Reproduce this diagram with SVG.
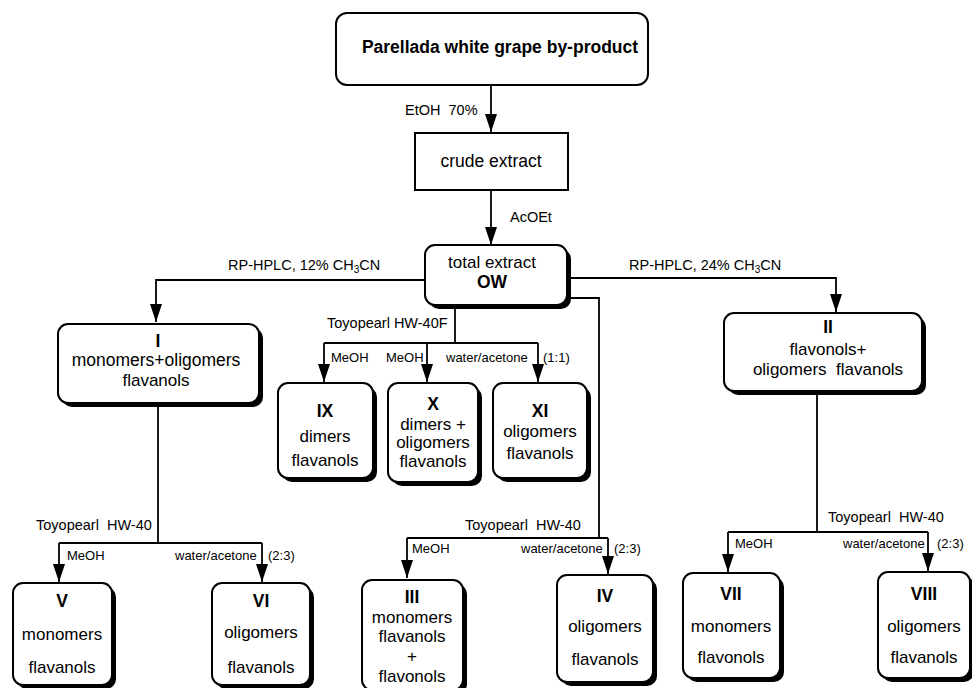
<svg xmlns="http://www.w3.org/2000/svg" width="972" height="688" viewBox="0 0 972 688">
<defs>
<style>
text{font-family:"Liberation Sans",Arial,Helvetica,sans-serif;fill:#000;white-space:pre}
.n{font-size:17px;text-anchor:middle}
.b{font-size:17.5px;font-weight:bold;text-anchor:middle}
.l{font-size:14.5px}
.s{font-size:13px}
.box{fill:#fff;stroke:#000;stroke-width:2}
.sh{fill:#000}
.ln{fill:none;stroke:#000;stroke-width:1.8}
.ar{fill:none;stroke:#000;stroke-width:1.8;marker-end:url(#ah)}
</style>
<marker id="ah" viewBox="0 0 18 12" refX="18" refY="6" markerWidth="18" markerHeight="12" markerUnits="userSpaceOnUse" orient="auto">
<path d="M0,0 L18,6 L0,12 z" fill="#000"/>
</marker>
</defs>
<rect width="972" height="688" fill="#fff"/>

<g id="connectors">
<line class="ar" x1="491" y1="85" x2="491" y2="132"/>
<line class="ar" x1="491" y1="190" x2="491" y2="245"/>
<polyline class="ar" points="425,280 156,280 156,322"/>
<polyline class="ar" points="571,278 836,278 836,312"/>
<polyline class="ln" points="571,298 599,298 599,538"/>
<line class="ln" x1="455" y1="309" x2="455" y2="343"/>
<line class="ln" x1="324" y1="343" x2="538" y2="343"/>
<line class="ar" x1="324" y1="343" x2="324" y2="382"/>
<line class="ar" x1="427" y1="343" x2="427" y2="382"/>
<line class="ar" x1="538" y1="343" x2="538" y2="382"/>
<line class="ln" x1="158" y1="407" x2="158" y2="543"/>
<line class="ln" x1="59" y1="543" x2="262" y2="543"/>
<line class="ar" x1="59" y1="543" x2="59" y2="582"/>
<line class="ar" x1="262" y1="543" x2="262" y2="582"/>
<line class="ln" x1="407" y1="538" x2="608" y2="538"/>
<line class="ar" x1="407" y1="538" x2="407" y2="578"/>
<line class="ar" x1="608" y1="538" x2="608" y2="574"/>
<line class="ln" x1="817" y1="395" x2="817" y2="532"/>
<line class="ln" x1="728" y1="532" x2="928" y2="532"/>
<line class="ar" x1="728" y1="532" x2="728" y2="572"/>
<line class="ar" x1="928" y1="532" x2="928" y2="571"/>

<text class="l" x="405" y="115" xml:space="preserve">EtOH  70%</text>
<text class="l" x="510" y="222">AcOEt</text>
<text class="l" x="228" y="270">RP-HPLC, 12% CH<tspan font-size="10" dy="3">3</tspan><tspan dy="-3">CN</tspan></text>
<text class="l" x="629" y="270">RP-HPLC, 24% CH<tspan font-size="10" dy="3">3</tspan><tspan dy="-3">CN</tspan></text>
<text class="l" x="327" y="328">Toyopearl HW-40F</text>
<text class="s" x="331" y="362">MeOH</text>
<text class="s" x="386" y="362">MeOH</text>
<text class="s" x="446" y="362">water/acetone</text>
<text class="s" x="543" y="362">(1:1)</text>
<text class="l" x="36" y="530" xml:space="preserve">Toyopearl  HW-40</text>
<text class="s" x="67" y="560">MeOH</text>
<text class="s" x="175" y="560">water/acetone</text>
<text class="s" x="268" y="560">(2:3)</text>
<text class="l" x="465" y="530" xml:space="preserve">Toyopearl  HW-40</text>
<text class="s" x="412" y="553">MeOH</text>
<text class="s" x="521" y="553">water/acetone</text>
<text class="s" x="614" y="553">(2:3)</text>
<text class="l" x="828" y="522" xml:space="preserve">Toyopearl  HW-40</text>
<text class="s" x="735" y="548">MeOH</text>
<text class="s" x="843" y="548">water/acetone</text>
<text class="s" x="937" y="548">(2:3)</text>
</g>

<g id="node-source">
<rect class="box" x="336" y="13" width="312" height="72" rx="11"/>
<text class="b" x="500" y="53">Parellada white grape by-product</text>
</g>

<g id="node-crude">
<rect class="box" x="415" y="133" width="153" height="57"/>
<text class="n" x="491" y="167" style="font-size:17.5px">crude extract</text>
</g>

<g id="node-OW">
<rect class="sh" x="429" y="249" width="142" height="60" rx="10"/>
<rect class="box" x="425" y="245" width="142" height="60" rx="10"/>
<text class="n" x="492" y="268">total extract</text>
<text class="b" x="492" y="288">OW</text>
</g>

<g id="node-I">
<rect class="sh" x="62" y="328" width="201" height="79" rx="10"/>
<rect class="box" x="58" y="324" width="201" height="79" rx="10"/>
<text class="b" x="158" y="347">I</text>
<text class="n" x="156" y="366" style="font-size:17.5px">monomers+oligomers</text>
<text class="n" x="156" y="386">flavanols</text>
</g>

<g id="node-II">
<rect class="sh" x="728" y="317" width="198" height="78" rx="10"/>
<rect class="box" x="724" y="313" width="198" height="78" rx="10"/>
<text class="b" x="828" y="333">II</text>
<text class="n" x="828" y="355">flavonols+</text>
<text class="n" x="828" y="375" xml:space="preserve">oligomers  flavanols</text>
</g>

<g id="node-IX">
<rect class="sh" x="282" y="387" width="95" height="95" rx="10"/>
<rect class="box" x="278" y="383" width="95" height="95" rx="10"/>
<text class="b" x="325" y="417">IX</text>
<text class="n" x="325" y="442">dimers</text>
<text class="n" x="325" y="466">flavanols</text>
</g>

<g id="node-X">
<rect class="sh" x="392" y="387" width="90" height="99" rx="10"/>
<rect class="box" x="388" y="383" width="90" height="99" rx="10"/>
<text class="b" x="433" y="410">X</text>
<text class="n" x="433" y="430">dimers +</text>
<text class="n" x="433" y="448">oligomers</text>
<text class="n" x="433" y="467">flavanols</text>
</g>

<g id="node-XI">
<rect class="sh" x="497" y="387" width="94" height="95" rx="10"/>
<rect class="box" x="493" y="383" width="94" height="95" rx="10"/>
<text class="b" x="540" y="417">XI</text>
<text class="n" x="540" y="437">oligomers</text>
<text class="n" x="540" y="459">flavanols</text>
</g>

<g id="node-V">
<rect class="sh" x="17" y="587" width="99" height="102" rx="10"/>
<rect class="box" x="13" y="583" width="99" height="102" rx="10"/>
<text class="b" x="62" y="607">V</text>
<text class="n" x="62" y="640">monomers</text>
<text class="n" x="62" y="673">flavanols</text>
</g>

<g id="node-VI">
<rect class="sh" x="216" y="587" width="98" height="102" rx="10"/>
<rect class="box" x="212" y="583" width="98" height="102" rx="10"/>
<text class="b" x="261" y="607">VI</text>
<text class="n" x="261" y="638">oligomers</text>
<text class="n" x="261" y="673">flavanols</text>
</g>

<g id="node-III">
<rect class="sh" x="366" y="584" width="101" height="110" rx="10"/>
<rect class="box" x="362" y="580" width="101" height="110" rx="10"/>
<text class="b" x="412" y="603">III</text>
<text class="n" x="412" y="623">monomers</text>
<text class="n" x="412" y="642">flavanols</text>
<text class="n" x="412" y="662">+</text>
<text class="n" x="412" y="682">flavonols</text>
</g>

<g id="node-IV">
<rect class="sh" x="561" y="579" width="96" height="107" rx="10"/>
<rect class="box" x="557" y="575" width="96" height="107" rx="10"/>
<text class="b" x="605" y="602">IV</text>
<text class="n" x="605" y="632">oligomers</text>
<text class="n" x="605" y="665">flavanols</text>
</g>

<g id="node-VII">
<rect class="sh" x="687" y="577" width="97" height="105" rx="10"/>
<rect class="box" x="683" y="573" width="97" height="105" rx="10"/>
<text class="b" x="731" y="600">VII</text>
<text class="n" x="731" y="632">monomers</text>
<text class="n" x="731" y="663">flavonols</text>
</g>

<g id="node-VIII">
<rect class="sh" x="882" y="576" width="92" height="106" rx="10"/>
<rect class="box" x="878" y="572" width="92" height="106" rx="10"/>
<text class="b" x="924" y="600">VIII</text>
<text class="n" x="924" y="632">oligomers</text>
<text class="n" x="924" y="663">flavanols</text>
</g>
</svg>
